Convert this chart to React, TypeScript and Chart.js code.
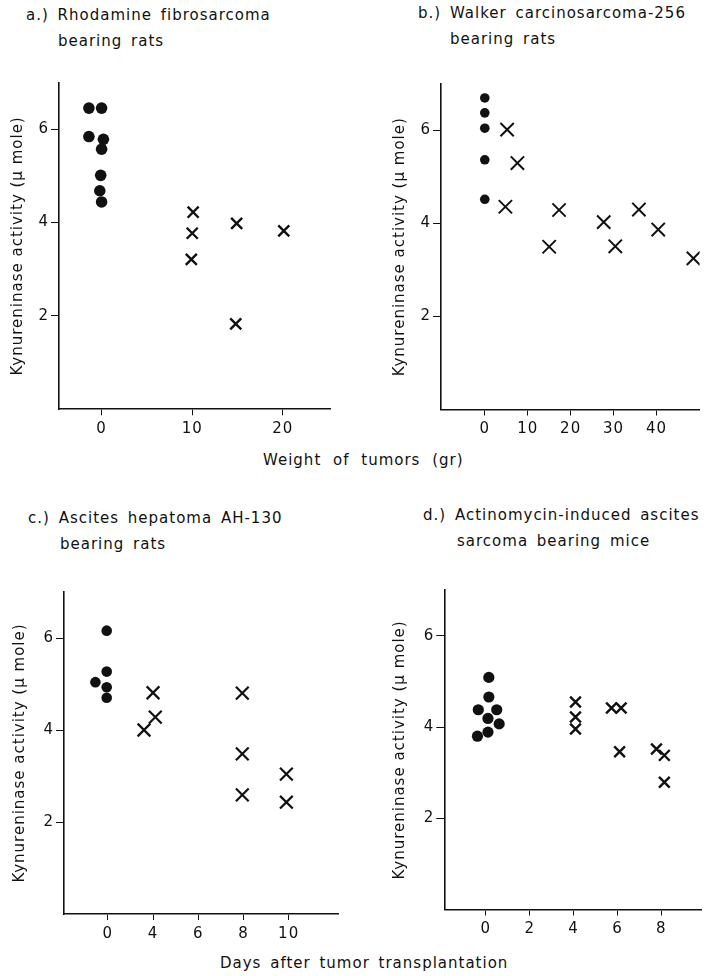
import React, { useEffect, useRef } from "react";
import { Chart, registerables } from "chart.js";

Chart.register(...registerables);

const INK = "#111111";
const FONT = "'DejaVu Sans', sans-serif";
const Y_TITLE = "Kynureninase activity (μ mole)";

// ---- Panel a: Rhodamine fibrosarcoma (weight of tumors, gr) ----
const aControlX = [-1.4, 0, -1.4, 0.2, 0, -0.1, -0.2, 0];
const aControlY = [6.45, 6.45, 5.84, 5.78, 5.57, 5.01, 4.68, 4.44];
const aTumorX = [10.1, 10.0, 9.9, 14.9, 14.8, 20.1];
const aTumorY = [4.22, 3.77, 3.21, 3.98, 1.83, 3.82];
const aTicksX = [0, 10, 20];

// ---- Panel b: Walker carcinosarcoma-256 (weight of tumors, gr) ----
const bControlX = [0, 0, 0, 0, 0];
const bControlY = [6.7, 6.38, 6.05, 5.37, 4.52];
const bTumorX = [5.2, 7.6, 4.8, 17.3, 15.0, 27.7, 30.4, 35.9, 40.4, 48.6];
const bTumorY = [6.02, 5.3, 4.36, 4.29, 3.5, 4.03, 3.51, 4.3, 3.87, 3.25];
const bTicksX = [0, 10, 20, 30, 40];

// ---- Panel c: Ascites hepatoma AH-130 (days after transplantation) ----
const cControlDays = [-0.1, -0.1, -1.1, -0.1, -0.1];
const cControlY = [6.16, 5.27, 5.04, 4.93, 4.7];
const cTumorDays = [3.2, 4.0, 4.1, 7.95, 7.95, 7.95, 9.9, 9.9];
const cTumorY = [4.0, 4.81, 4.28, 4.8, 3.48, 2.59, 3.04, 2.43];
const cTickDays = [0, 4, 6, 8, 10];

// ---- Panel d: Actinomycin-induced ascites sarcoma (days) ----
const dControlX = [0.14, 0.14, -0.34, 0.5, 0.1, 0.61, -0.38, 0.1];
const dControlY = [5.09, 4.66, 4.38, 4.38, 4.19, 4.07, 3.8, 3.89];
const dTumorX = [4.09, 4.09, 4.09, 5.73, 6.17, 6.1, 7.78, 8.14, 8.14];
const dTumorY = [4.55, 4.22, 3.96, 4.42, 4.42, 3.46, 3.52, 3.38, 2.79];
const dTicksX = [0, 2, 4, 6, 8];

const yTicks = [2, 4, 6];

// panel c's day axis has evenly spaced, non-uniform ticks
function dayToPos(d: number): number {
  const k = cTickDays;
  if (d <= k[1]) return (d - k[0]) / (k[1] - k[0]);
  for (let i = 1; i < k.length - 1; i++) {
    if (d <= k[i + 1]) return i + (d - k[i]) / (k[i + 1] - k[i]);
  }
  const n = k.length - 1;
  return n - 1 + (d - k[n - 1]) / (k[n] - k[n - 1]);
}

const zip = (xs: number[], ys: number[]) => xs.map((x, i) => ({ x, y: ys[i] }));

type Panel = {
  left: number; top: number; w: number; h: number;
  x0: number; y0: number; x1: number; y1: number;
  xMin: number; xMax: number; yMin: number; yMax: number;
  xTicks: number[]; xLabel: (v: number) => string;
  control: { x: number; y: number }[]; tumor: { x: number; y: number }[];
  dotR: number; crossR: number; crossW: number; titleCenter: number;
};

const panels: Panel[] = [
  {
    left: 0, top: 60, w: 345, h: 390,
    x0: 59, y0: 82.4, x1: 330, y1: 409.3,
    xMin: -4.7, xMax: 25.2, yMin: 0, yMax: 7,
    xTicks: aTicksX, xLabel: (v) => String(v),
    control: zip(aControlX, aControlY), tumor: zip(aTumorX, aTumorY),
    dotR: 5.8, crossR: 7.8, crossW: 2.4, titleCenter: 18,
  },
  {
    left: 360, top: 60, w: 351, h: 390,
    x0: 441, y0: 84, x1: 711, y1: 409.5,
    xMin: -10.2, xMax: 50.04, yMin: 0, yMax: 7,
    xTicks: bTicksX, xLabel: (v) => String(v),
    control: zip(bControlX, bControlY), tumor: zip(bTumorX, bTumorY),
    dotR: 4.8, crossR: 9.4, crossW: 2, titleCenter: 400,
  },
  {
    left: 0, top: 570, w: 350, h: 380,
    x0: 64, y0: 592, x1: 341.7, y1: 914,
    xMin: -0.97, xMax: 5.11, yMin: 0, yMax: 7,
    xTicks: cTickDays.map(dayToPos), xLabel: (v) => String(cTickDays[Math.round(v)]),
    control: zip(cControlDays.map(dayToPos), cControlY), tumor: zip(cTumorDays.map(dayToPos), cTumorY),
    dotR: 5.3, crossR: 9, crossW: 2.2, titleCenter: 20,
  },
  {
    left: 360, top: 570, w: 351, h: 380,
    x0: 444.3, y0: 590.3, x1: 711, y1: 909.5,
    xMin: -1.89, xMax: 9.81, yMin: 0, yMax: 7,
    xTicks: dTicksX, xLabel: (v) => String(v),
    control: zip(dControlX, dControlY), tumor: zip(dTumorX, dTumorY),
    dotR: 5.6, crossR: 7.6, crossW: 2.4, titleCenter: 400,
  },
];

const spacingPlugin = {
  id: "letterSpacing",
  beforeLayout(chart: any) { chart.ctx.letterSpacing = "1px"; },
  beforeDraw(chart: any) { chart.ctx.letterSpacing = "1px"; },
};

function buildConfig(p: Panel): any {
  const yW = p.x0 - p.left;
  const xH = p.top + p.h - p.y1;
  const padTop = p.y0 - p.top;
  const padRight = p.left + p.w - p.x1;
  const zeroPad = (s: any) => {
    s.paddingLeft = 0; s.paddingRight = 0; s.paddingTop = 0; s.paddingBottom = 0;
  };
  return {
    type: "scatter",
    data: {
      datasets: [
        {
          data: p.control, pointStyle: "circle", pointRadius: p.dotR,
          backgroundColor: INK, borderColor: INK, borderWidth: 0,
        },
        {
          data: p.tumor, pointStyle: "crossRot", pointRadius: p.crossR,
          backgroundColor: INK, borderColor: INK, borderWidth: p.crossW,
        },
      ],
    },
    options: {
      animation: false, responsive: false, maintainAspectRatio: false, events: [],
      layout: { padding: { top: padTop, right: padRight, left: 0, bottom: 0 } },
      plugins: { legend: { display: false }, tooltip: { enabled: false } },
      scales: {
        x: {
          type: "linear", min: p.xMin, max: p.xMax,
          afterBuildTicks: (s: any) => { s.ticks = p.xTicks.map((v) => ({ value: v })); },
          afterFit: (s: any) => { s.height = xH; zeroPad(s); },
          grid: { display: true, drawOnChartArea: false, drawTicks: true, tickLength: 6, color: INK, lineWidth: 1 },
          border: { display: true, color: INK, width: 1.6 },
          ticks: {
            color: INK, font: { family: FONT, size: 15 }, padding: 5,
            autoSkip: false, maxRotation: 0, callback: (v: any) => p.xLabel(Number(v)),
          },
        },
        y: {
          type: "linear", min: p.yMin, max: p.yMax,
          afterBuildTicks: (s: any) => { s.ticks = yTicks.map((v) => ({ value: v })); },
          afterFit: (s: any) => { s.width = yW; zeroPad(s); },
          grid: { display: true, drawOnChartArea: false, drawTicks: true, tickLength: 8, color: INK, lineWidth: 1 },
          border: { display: true, color: INK, width: 1.6 },
          ticks: { color: INK, font: { family: FONT, size: 15 }, padding: 2, autoSkip: false, callback: (v: any) => String(v) },
          title: {
            display: true, text: Y_TITLE, color: INK,
            font: { family: FONT, size: 15 },
            padding: { top: p.titleCenter - p.left - 9, bottom: 0 },
          },
        },
      },
    },
    plugins: [spacingPlugin],
  };
}

function PanelChart({ p }: { p: Panel }) {
  const ref = useRef<HTMLCanvasElement | null>(null);
  useEffect(() => {
    if (!ref.current) return;
    const chart = new Chart(ref.current, buildConfig(p));
    return () => chart.destroy();
  }, [p]);
  return (
    <canvas
      ref={ref}
      width={p.w}
      height={p.h}
      style={{ position: "absolute", left: p.left, top: p.top, width: p.w, height: p.h }}
    />
  );
}

const texts = [
  { t: "a.) Rhodamine fibrosarcoma", left: 26, base: 21, ws: 3 },
  { t: "bearing rats", left: 58, base: 46.7, ws: 3 },
  { t: "b.) Walker carcinosarcoma-256", left: 418, base: 18.3, ws: 3 },
  { t: "bearing rats", left: 450, base: 45, ws: 3 },
  { t: "c.) Ascites hepatoma AH-130", left: 28, base: 523.3, ws: 3 },
  { t: "bearing rats", left: 60, base: 549.3, ws: 3 },
  { t: "d.) Actinomycin-induced ascites", left: 423, base: 520.7, ws: 3 },
  { t: "sarcoma bearing mice", left: 457, base: 546.7, ws: 3 },
  { t: "Weight of tumors (gr)", left: 263, base: 466, ws: 6 },
  { t: "Days after tumor transplantation", left: 220, base: 969, ws: 3 },
];

export default function App() {
  useEffect(() => {
    document.body.style.margin = "0";
  }, []);
  return (
    <div style={{ position: "absolute", left: 0, top: 0, width: 711, height: 976, background: "#fff", overflow: "hidden" }}>
      {panels.map((p, i) => (
        <PanelChart key={i} p={p} />
      ))}
      {texts.map((s, i) => (
        <div
          key={"t" + i}
          style={{
            position: "absolute", left: s.left, top: s.base - 12.7, whiteSpace: "nowrap",
            fontFamily: FONT, fontSize: 15, lineHeight: "15px", letterSpacing: "1px", wordSpacing: s.ws + "px", color: INK,
          }}
        >
          {s.t}
        </div>
      ))}
    </div>
  );
}
